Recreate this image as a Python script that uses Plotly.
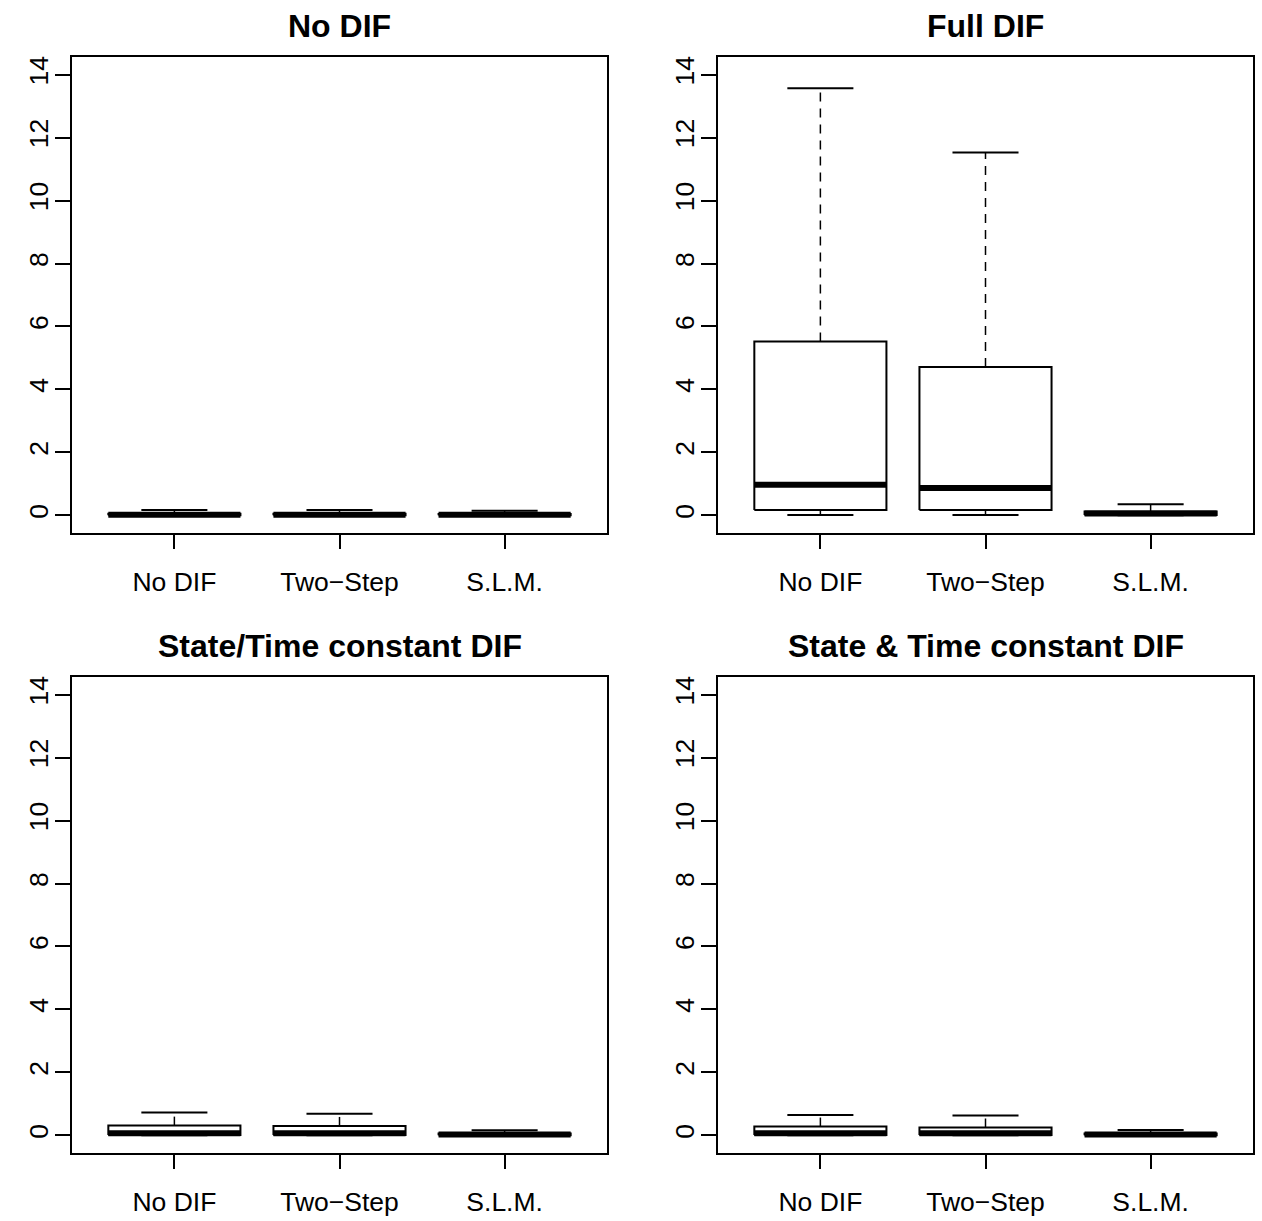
import plotly.graph_objects as go

# ---- data ----
groups = ["No DIF", "Two\u2212Step", "S.L.M."]
panel_titles = ["No DIF", "Full DIF", "State/Time constant DIF", "State & Time constant DIF"]

# five-number summaries per panel: [lower whisker, Q1, median, Q3, upper whisker]
nodif_panel = [
    [0.0, 0.0, 0.02, 0.05, 0.17],
    [0.0, 0.0, 0.02, 0.05, 0.17],
    [0.0, 0.0, 0.02, 0.04, 0.15],
]
full_panel = [
    [0.01, 0.17, 0.97, 5.52, 13.57],
    [0.01, 0.17, 0.87, 4.71, 11.53],
    [0.0, 0.01, 0.06, 0.12, 0.35],
]
st_panel = [
    [0.0, 0.01, 0.07, 0.31, 0.73],
    [0.0, 0.01, 0.07, 0.30, 0.69],
    [0.0, 0.0, 0.03, 0.06, 0.16],
]
stt_panel = [
    [0.0, 0.01, 0.07, 0.28, 0.65],
    [0.0, 0.01, 0.07, 0.25, 0.63],
    [0.0, 0.0, 0.03, 0.06, 0.17],
]
panels = [nodif_panel, full_panel, st_panel, stt_panel]

y_ticks = [0, 2, 4, 6, 8, 10, 12, 14]

# ---- layout geometry ----
W, H = 1262, 1221
xdoms = [[72 / W, 607 / W], [718 / W, 1253 / W]]
ydoms = [[(H - 533) / H, (H - 57) / H], [(H - 1153) / H, (H - 677) / H]]
title_y = [(H - 26) / H, (H - 646) / H]

FONT = "Liberation Sans, Arial, Helvetica, sans-serif"
BOXW = 0.4
CAPW = 0.2

fig = go.Figure()
layout = dict(
    width=W, height=H, autosize=False,
    margin=dict(l=0, r=0, t=0, b=0),
    paper_bgcolor="white", plot_bgcolor="white",
    showlegend=False,
    font=dict(family=FONT, size=26, color="black"),
    annotations=[],
)

for p, stats in enumerate(panels):
    row, col = divmod(p, 2)
    k = p + 1
    xa = "x" if k == 1 else f"x{k}"
    ya = "y" if k == 1 else f"y{k}"
    for gi, (lo, q1, med, q3, hi) in enumerate(stats):
        c = gi + 1
        line = dict(color="black", width=2)
        # whiskers (dashed)
        fig.add_trace(go.Scatter(x=[c, c], y=[q3, hi], mode="lines", xaxis=xa, yaxis=ya,
                                 line=dict(color="black", width=1.5, dash="9px,7px"), hoverinfo="skip"))
        fig.add_trace(go.Scatter(x=[c, c], y=[lo, q1], mode="lines", xaxis=xa, yaxis=ya,
                                 line=dict(color="black", width=1.5, dash="9px,7px"), hoverinfo="skip"))
        # caps
        for v in (lo, hi):
            fig.add_trace(go.Scatter(x=[c - CAPW, c + CAPW], y=[v, v], mode="lines", xaxis=xa, yaxis=ya,
                                     line=line, hoverinfo="skip"))
        # box
        fig.add_trace(go.Scatter(x=[c - BOXW, c + BOXW, c + BOXW, c - BOXW, c - BOXW],
                                 y=[q1, q1, q3, q3, q1], mode="lines", fill="toself",
                                 fillcolor="white", xaxis=xa, yaxis=ya, line=line, hoverinfo="skip"))
        # median
        fig.add_trace(go.Scatter(x=[c - BOXW, c + BOXW], y=[med, med], mode="lines", xaxis=xa, yaxis=ya,
                                 line=dict(color="black", width=6), hoverinfo="skip"))

    axkey = "xaxis" if k == 1 else f"xaxis{k}"
    aykey = "yaxis" if k == 1 else f"yaxis{k}"
    layout[axkey] = dict(
        domain=xdoms[col], anchor=ya, range=[0.38, 3.62],
        tickmode="array", tickvals=[1, 2, 3], ticktext=groups,
        ticks="outside", ticklen=14, tickwidth=2, tickcolor="black",
        ticklabelstandoff=10,
        showline=True, mirror=True, linecolor="black", linewidth=2,
        showgrid=False, zeroline=False,
        tickfont=dict(family=FONT, size=26.5, color="black"),
    )
    layout[aykey] = dict(
        domain=ydoms[row], anchor=xa, range=[-0.56, 14.56],
        tickmode="array", tickvals=y_ticks, ticktext=[str(v) for v in y_ticks],
        tickangle=-90,
        ticks="outside", ticklen=15, tickwidth=2, tickcolor="black",
        ticklabelstandoff=-4,
        showline=True, mirror=True, linecolor="black", linewidth=2,
        showgrid=False, zeroline=False,
        tickfont=dict(family=FONT, size=26.5, color="black"),
    )
    layout["annotations"].append(dict(
        text=f"<b>{panel_titles[p]}</b>", xref="paper", yref="paper",
        x=(xdoms[col][0] + xdoms[col][1]) / 2, y=title_y[row],
        xanchor="center", yanchor="middle", showarrow=False,
        font=dict(family=FONT, size=32, color="black"),
    ))

fig.update_layout(**layout)
fig.write_html("out.html", config={"displayModeBar": False},
               post_script="document.body.style.margin='0';document.body.style.overflow='hidden';")
